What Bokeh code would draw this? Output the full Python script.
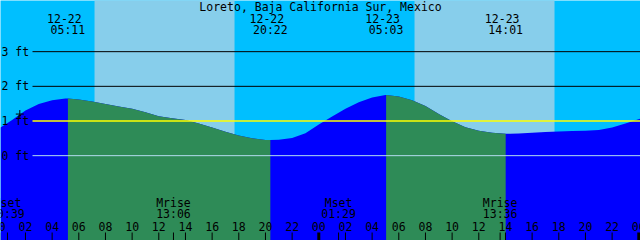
from bokeh.plotting import figure
from bokeh.models import Range1d
from bokeh.core.properties import value
from bokeh.embed import file_html
from bokeh.resources import INLINE

# ---------------- data (hours since 12-22 00:00, heights in ft) ----------------
title = "Loreto, Baja California Sur, Mexico"

tide_hours = [0.13, 1, 2, 3, 4, 5, 5.183, 6, 7, 8, 9, 10, 11, 12, 13, 14, 15, 16, 17, 18, 19, 20,
              20.367, 21, 22, 23, 24, 25, 26, 27, 28, 29, 29.05, 30, 31, 32, 33, 34, 35, 36, 37,
              38.017, 39, 40, 41, 42, 43, 44, 45, 46, 47, 48.13]
tide_heights = [0.81, 1.03, 1.30, 1.49, 1.60, 1.65, 1.65, 1.62, 1.56, 1.49, 1.42, 1.35, 1.25, 1.14,
                1.08, 1.03, 0.93, 0.81, 0.69, 0.58, 0.50, 0.45, 0.45, 0.46, 0.51, 0.65, 0.90, 1.13,
                1.35, 1.54, 1.68, 1.75, 1.75, 1.71, 1.60, 1.43, 1.20, 0.99, 0.82, 0.72, 0.66, 0.63,
                0.64, 0.66, 0.68, 0.70, 0.71, 0.72, 0.74, 0.81, 0.93, 1.07]

extreme_hours = [5.183, 20.367, 29.05, 38.017]
extreme_dates = ["12-22", "12-22", "12-23", "12-23"]
extreme_times = ["05:11", "20:22", "05:03", "14:01"]

sunrise_hours = [7.18, 31.18]
sunset_hours = [17.68, 41.68]

moon_hours = [0.65, 13.1, 25.483, 37.6]
moon_events = ["Mset", "Mrise", "Mset", "Mrise"]
moon_times = ["00:39", "13:06", "01:29", "13:36"]

level_values = [0, 1, 2, 3]
level_labels = ["0 ft", "1 ft", "2 ft", "3 ft"]
mark_level = 1

hour_ticks = [0, 2, 4, 6, 8, 10, 12, 14, 16, 18, 20, 22, 24, 26, 28, 30, 32, 34, 36, 38, 40, 42, 44, 46, 48]
hour_labels = ["00", "02", "04", "06", "08", "10", "12", "14", "16", "18", "20", "22",
               "00", "02", "04", "06", "08", "10", "12", "14", "16", "18", "20", "22", "00"]

now_hour = 1.575
now_height = 1.20

# ---------------- layout ----------------
W, H = 640, 240
PXH = 13.333          # pixels per hour
PXF = 34.67           # pixels per foot
X0 = 1.7 / PXH
X1 = X0 + W / PXH
ZERO_PX = 155.17
Y1 = ZERO_PX / PXF
Y0 = -(H - ZERO_PX) / PXF


def xpx(px):
    return X0 + px / PXH


def ypx(py):
    return Y1 - py / PXF


p = figure(width=W, height=H, output_backend="svg", toolbar_location=None,
           x_axis_type=None, y_axis_type=None, min_border=0,
           x_range=Range1d(X0, X1), y_range=Range1d(Y0, Y1))
p.outline_line_color = None
p.background_fill_color = "#00BFFF"
p.border_fill_color = "#00BFFF"
p.xgrid.visible = False
p.ygrid.visible = False

# daylight bands
p.quad(left=sunrise_hours, right=sunset_hours, bottom=Y0 - 1, top=Y1 + 1,
       fill_color="#87CEEB", line_color=None)

# tide fill: rising (blue) everywhere, then falling (green) segments on top
p.varea(x=tide_hours, y1=[Y0 - 1] * len(tide_hours), y2=tide_heights, fill_color="#0000FF")
bounds = [tide_hours[0]] + extreme_hours + [tide_hours[-1]]
for a, b in zip(bounds[:-1], bounds[1:]):
    xs = [h for h in tide_hours if a <= h <= b]
    ys = [tide_heights[tide_hours.index(h)] for h in xs]
    if ys[-1] < ys[0]:
        p.varea(x=xs, y1=[Y0 - 1] * len(xs), y2=ys, fill_color="#2E8B57")

# level lines
line_colors = []
line_widths = []
for lv in level_values:
    if lv == 0:
        line_colors.append("#B4DCF0")
        line_widths.append(1)
    elif lv == mark_level:
        line_colors.append("#FFFF00")
        line_widths.append(1.6)
    else:
        line_colors.append("black")
        line_widths.append(1)
p.segment(x0=[xpx(32)] * len(level_values), x1=[X1] * len(level_values),
          y0=level_values, y1=level_values, line_color=line_colors, line_width=line_widths)

FONT = value("DejaVu Sans Mono")
FS = "11.5px"

# level labels
p.text(x=[xpx(1)] * len(level_values), y=level_values, text=level_labels,
       text_font=FONT, text_font_size=FS, text_align="left", text_baseline="middle",
       text_color="black")

# title
p.text(x=[xpx(320)], y=[ypx(6)], text=[title], text_font=FONT, text_font_size=FS,
       text_align="center", text_baseline="middle", text_color="black")

# extreme labels
p.text(x=extreme_hours, y=[ypx(17.7)] * len(extreme_hours), text=extreme_dates, x_offset=-3.5,
       text_font=FONT, text_font_size=FS, text_align="center", text_baseline="middle",
       text_color="black")
p.text(x=extreme_hours, y=[ypx(29.5)] * len(extreme_hours), text=extreme_times,
       text_font=FONT, text_font_size=FS, text_align="center", text_baseline="middle",
       text_color="black")

# moon labels
p.text(x=moon_hours, y=[ypx(202)] * len(moon_hours), text=moon_events,
       text_font=FONT, text_font_size=FS, text_align="center", text_baseline="middle",
       text_color="black")
p.text(x=moon_hours, y=[ypx(213.8)] * len(moon_hours), text=moon_times,
       text_font=FONT, text_font_size=FS, text_align="center", text_baseline="middle",
       text_color="black")

# hour labels
p.text(x=hour_ticks, y=[ypx(225.5)] * len(hour_ticks), text=hour_labels,
       text_font=FONT, text_font_size=FS, text_align="center", text_baseline="middle",
       text_color="black")

# ticks
tick_x = hour_ticks + moon_hours
tick_w = [3 if (h % 24 == 0) else 1 for h in hour_ticks] + [1] * len(moon_hours)
p.segment(x0=tick_x, x1=tick_x, y0=[ypx(232)] * len(tick_x), y1=[ypx(241)] * len(tick_x),
          line_color="black", line_width=tick_w)

# "now" mark
p.scatter(x=[now_hour], y=[now_height], marker="cross", size=8, line_color="black", line_width=1)

open("out.html", "w").write(file_html(p, INLINE))
